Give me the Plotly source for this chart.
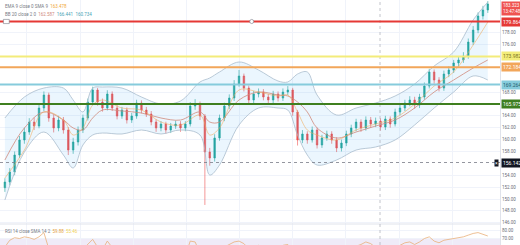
import plotly.graph_objects as go

# ---------------- data ----------------
open_ = [151.90, 152.86, 154.54, 157.40, 159.93, 161.27, 162.95, 162.28, 165.31, 167.50,
         163.63, 161.95, 163.29, 161.61, 158.24, 159.59, 161.61, 163.63, 166.32, 168.34,
         166.32, 165.31, 167.67, 165.31, 163.96, 164.97, 163.29, 163.96, 166.15, 164.97,
         164.30, 162.95, 161.95, 162.62, 161.61, 162.28, 162.62, 161.95, 162.62, 165.65,
         165.98, 163.96, 157.91, 156.90, 160.26, 163.63, 165.65, 166.99, 169.35, 170.69,
         168.67, 166.66, 167.67, 168.00, 167.16, 166.66, 167.67, 166.99, 168.00, 168.34,
         164.64, 159.93, 160.94, 159.93, 161.61, 159.09, 160.26, 160.94, 159.93, 158.58,
         159.42, 160.94, 161.95, 162.95, 161.95, 163.29, 162.62, 163.12, 162.11, 163.46,
         162.62, 164.64, 165.31, 166.15, 166.66, 165.81, 167.16, 169.01, 171.37, 170.02,
         168.67, 171.03, 171.70, 172.88, 173.39, 174.06, 176.41, 178.43, 180.79, 181.80]
close = [152.86, 154.54, 157.40, 159.93, 161.27, 162.95, 162.28, 165.31, 167.50, 163.63,
         161.95, 163.29, 161.61, 158.24, 159.59, 161.61, 163.63, 166.32, 168.34, 166.32,
         165.31, 167.67, 165.31, 163.96, 164.97, 163.29, 163.96, 166.15, 164.97, 164.30,
         162.95, 161.95, 162.62, 161.61, 162.28, 162.62, 161.95, 162.62, 165.65, 165.98,
         163.96, 157.91, 156.90, 160.26, 163.63, 165.65, 166.99, 169.35, 170.69, 168.67,
         166.66, 167.67, 168.00, 167.16, 166.66, 167.67, 166.99, 168.00, 168.34, 164.64,
         159.93, 160.94, 159.93, 161.61, 159.09, 160.26, 160.94, 159.93, 158.58, 159.42,
         160.94, 161.95, 162.95, 161.95, 163.29, 162.62, 163.12, 162.11, 163.46, 162.62,
         164.64, 165.31, 166.15, 166.66, 165.81, 167.16, 169.01, 171.37, 170.02, 168.67,
         171.03, 171.70, 172.88, 173.39, 174.06, 176.41, 178.43, 180.79, 181.80, 182.81]
high = [153.5, 155.2, 158.0, 160.6, 162.0, 163.6, 163.7, 165.9, 168.1, 167.9,
        164.2, 164.0, 163.8, 162.1, 160.3, 162.2, 164.2, 166.9, 168.9, 168.7,
        166.9, 168.3, 168.1, 165.8, 165.5, 165.4, 164.5, 166.7, 166.6, 165.5,
        164.8, 163.4, 163.1, 163.0, 162.8, 163.2, 163.1, 163.1, 166.3, 166.8,
        166.4, 164.3, 158.6, 160.9, 164.2, 166.2, 167.6, 170.0, 171.7, 171.1,
        169.1, 168.2, 168.6, 168.5, 167.7, 168.2, 168.1, 168.6, 169.0, 168.7,
        165.0, 161.6, 161.4, 162.2, 162.0, 160.8, 161.5, 161.4, 160.4, 160.0,
        161.5, 162.5, 163.5, 163.4, 163.9, 163.8, 163.7, 163.6, 164.0, 163.9,
        165.2, 165.9, 166.7, 167.3, 167.2, 167.7, 169.6, 171.9, 171.8, 170.5,
        171.6, 172.3, 173.4, 174.0, 174.7, 177.0, 179.1, 181.4, 182.5, 183.3]
low = [151.2, 152.3, 154.0, 156.9, 159.3, 160.8, 161.6, 161.9, 164.8, 163.0,
       161.2, 161.4, 161.0, 157.4, 157.6, 159.0, 161.1, 163.2, 165.8, 165.7,
       164.7, 164.9, 164.8, 163.4, 163.5, 162.7, 162.8, 163.5, 164.4, 163.8,
       162.4, 161.3, 161.4, 161.0, 161.1, 161.8, 161.3, 161.4, 162.2, 165.0,
       163.3, 149.0, 155.6, 156.3, 159.8, 163.1, 165.1, 166.5, 168.9, 168.1,
       166.0, 166.1, 167.1, 166.6, 166.0, 166.1, 166.4, 166.5, 167.5, 164.0,
       159.0, 159.4, 159.3, 159.5, 158.5, 158.6, 159.8, 159.3, 157.9, 158.0,
       158.9, 160.4, 161.4, 161.3, 161.5, 162.0, 162.1, 161.5, 161.6, 162.0,
       162.2, 164.1, 164.8, 165.6, 165.2, 165.3, 166.7, 168.6, 169.4, 168.1,
       168.2, 170.5, 171.2, 172.3, 172.9, 173.6, 175.9, 177.9, 180.2, 181.3]

bb_idx = [0, 4, 8, 12, 14, 16, 18, 20, 24, 28, 32, 36, 40, 42, 44, 48, 52, 56, 58, 60,
          62, 64, 68, 72, 76, 80, 84, 88, 92, 96, 99]
bb_upper = [163.63, 167.16, 168.67, 168.67, 166.66, 164.64, 168.67, 168.84, 168.67, 167.16,
            165.98, 166.49, 169.69, 170.36, 171.37, 173.05, 171.70, 169.85, 169.69, 171.03,
            171.37, 167.50, 164.13, 165.31, 166.15, 167.33, 169.35, 172.38, 174.73, 180.12, 183.14]
bb_basis = [156.56, 161.95, 164.64, 163.29, 161.95, 161.61, 163.63, 164.97, 164.81, 164.47,
            163.63, 163.29, 164.64, 162.95, 162.95, 166.66, 168.00, 167.50, 167.33, 166.32,
            164.64, 161.95, 160.26, 161.27, 162.28, 163.29, 165.31, 168.00, 170.02, 172.04, 173.39]
bb_lower = [149.83, 157.91, 161.27, 157.40, 155.22, 159.09, 160.77, 161.10, 160.94, 161.61,
            160.94, 161.61, 160.77, 154.04, 155.72, 162.45, 165.31, 165.31, 164.97, 160.77,
            157.40, 155.72, 156.56, 158.24, 158.75, 159.93, 162.45, 165.31, 168.00, 170.70, 170.02]
ema9 = [153.53, 158.24, 164.64, 163.29, 160.77, 161.95, 165.82, 166.66, 165.31, 164.97,
        162.95, 162.45, 164.13, 160.77, 161.95, 168.34, 168.00, 167.33, 167.50, 164.64,
        161.61, 160.77, 159.93, 161.61, 162.62, 163.63, 165.98, 169.01, 171.37, 175.91, 179.78]

rsi = [60, 68, 71, 70, 72, 71, 69, 72, 77, 58,
       52, 56, 51, 42, 46, 52, 58, 64, 69, 60,
       57, 67, 56, 52, 55, 50, 53, 59, 55, 53,
       49, 46, 49, 46, 49, 50, 48, 50, 67, 66,
       53, 38, 36, 46, 55, 60, 63, 66, 67, 64,
       58, 61, 62, 59, 58, 61, 59, 62, 63, 52,
       41, 44, 42, 47, 42, 46, 48, 45, 42, 45,
       50, 58, 61, 63, 66, 64, 60, 55, 58, 56,
       60, 62, 65, 66, 63, 66, 70, 72, 67, 65,
       68, 69, 70, 71, 72, 74, 76, 77, 75, 73]

level_prices = [179.864, 173.982, 172.184, 169.264, 165.975]
level_colors = ["#e53935", "#f3ec7a", "#f2a65a", "#86cbdc", "#3f7f1f"]
level_text_colors = ["#ffffff", "#7a7420", "#ffffff", "#1e5c6c", "#ffffff"]
price_ticks = [146, 148, 150, 152, 154, 158, 160, 162, 164, 168, 176, 178]
rsi_ticks = [70, 80]
alert_price = 156.142
last_price = "183.323"
countdown = "13:47:48"
legend_ema = ("EMA 9 close 0 SMA 9", ["163.478"])
legend_bb = ("BB 20 close 2 0", ["162.587", "166.441", "160.734"])
legend_rsi = ("RSI 14 close SMA 14 2", ["59.88", "55.46"])

# ---------------- figure ----------------
x = list(range(len(close)))
FONT = "Roboto"
price_range = [145.797, 183.481]
rsi_range = [62.4, 87.1]
split = 21 / 245

fig = go.Figure()
fig.add_trace(go.Scatter(x=bb_idx, y=bb_upper, mode="lines",
                         line=dict(color="#a9bccd", width=0.8, shape="spline"), hoverinfo="skip"))
fig.add_trace(go.Scatter(x=bb_idx, y=bb_lower, mode="lines", fill="tonexty",
                         fillcolor="rgba(33,150,243,0.09)",
                         line=dict(color="#a9bccd", width=0.8, shape="spline"), hoverinfo="skip"))
fig.add_trace(go.Scatter(x=bb_idx, y=bb_basis, mode="lines",
                         line=dict(color="#d08a7c", width=0.8, shape="spline"), hoverinfo="skip"))
fig.add_trace(go.Scatter(x=bb_idx, y=ema9, mode="lines",
                         line=dict(color="rgba(240,170,90,0.8)", width=0.7, shape="spline"), hoverinfo="skip"))
fig.add_trace(go.Candlestick(x=x, open=open_, high=high, low=low, close=close,
                             increasing=dict(line=dict(color="#26a69a", width=0.6), fillcolor="#26a69a"),
                             decreasing=dict(line=dict(color="#ef5350", width=0.6), fillcolor="#ef5350"),
                             whiskerwidth=0))
fig.add_trace(go.Scatter(x=x, y=rsi, mode="lines", xaxis="x2", yaxis="y2",
                         line=dict(color="#eab07a", width=0.8), hoverinfo="skip"))

shapes = []
shapes.append(dict(type="rect", xref="paper", x0=0, x1=1, yref="y2", y0=30, y1=70,
                   fillcolor="rgba(126,87,194,0.12)", line=dict(width=0), layer="below"))
shapes.append(dict(type="line", xref="paper", x0=0, x1=1, yref="paper", y0=split, y1=split,
                   line=dict(color="#e0e3eb", width=1)))
shapes.append(dict(type="line", xref="x", x0=76.9, x1=76.9, yref="paper", y0=0, y1=1,
                   line=dict(color="#b2b5be", width=0.8, dash="dot")))
shapes.append(dict(type="line", xref="paper", x0=0, x1=1, yref="y", y0=alert_price, y1=alert_price,
                   line=dict(color="#787b86", width=0.8, dash="dot")))
for p, c in zip(level_prices, level_colors):
    shapes.append(dict(type="line", xref="paper", x0=0, x1=1, yref="y", y0=p, y1=p,
                       line=dict(color=c, width=2)))
shapes.append(dict(type="rect", xref="x", x0=-0.3, x1=0.9, yref="y", y0=level_prices[0] - 0.35,
                   y1=level_prices[0] + 0.35, fillcolor="white", line=dict(color="#787b86", width=0.6)))
shapes.append(dict(type="circle", xref="x", x0=50.2, x1=51.0, yref="y", y0=level_prices[0] - 0.35,
                   y1=level_prices[0] + 0.35, fillcolor="white", line=dict(color="#787b86", width=0.6)))

annotations = []
for p, c, tc in zip(level_prices, level_colors, level_text_colors):
    annotations.append(dict(xref="paper", x=1, xanchor="left", xshift=1, yref="y", y=p,
                            text=f"{p:.3f}", showarrow=False, bgcolor=c, borderpad=1,
                            font=dict(family=FONT, size=5, color=tc)))
annotations.append(dict(xref="paper", x=1, xanchor="left", xshift=1, yref="y", y=alert_price,
                        text=f"{alert_price:.3f}", showarrow=False, bgcolor="#131722", borderpad=1,
                        font=dict(family=FONT, size=5, color="#ffffff")))
annotations.append(dict(xref="paper", x=1, xanchor="right", xshift=-1, yref="y", y=alert_price,
                        text="×", showarrow=False, bgcolor="#131722", borderpad=0,
                        font=dict(family=FONT, size=5, color="#ffffff")))
annotations.append(dict(xref="paper", x=1, xanchor="left", xshift=1, yref="paper", y=1, yshift=-1,
                        yanchor="top", text=f"{last_price}<br>{countdown}", showarrow=False,
                        bgcolor="#ef5350", borderpad=1, align="left",
                        font=dict(family=FONT, size=4.5, color="#ffffff")))


def legend_text(name, vals, colors):
    parts = [f"<span style='color:#787b86'>{name}</span>"]
    for v, c in zip(vals, colors):
        parts.append(f"<span style='color:{c}'>{v}</span>")
    return "  ".join(parts)


annotations.append(dict(xref="paper", x=0, xshift=3, xanchor="left", yref="paper", y=1, yshift=-2,
                        yanchor="top", showarrow=False,
                        text=legend_text(legend_ema[0], legend_ema[1], ["#f0a93a"]),
                        font=dict(family=FONT, size=4.5)))
annotations.append(dict(xref="paper", x=0, xshift=3, xanchor="left", yref="paper", y=1, yshift=-10,
                        yanchor="top", showarrow=False,
                        text=legend_text(legend_bb[0], legend_bb[1], ["#d08a7c", "#4aa3b5", "#4aa3b5"]),
                        font=dict(family=FONT, size=4.5)))
annotations.append(dict(xref="paper", x=0, xshift=3, xanchor="left", yref="paper", y=split, yshift=-3,
                        yanchor="top", showarrow=False,
                        text=legend_text(legend_rsi[0], legend_rsi[1], ["#e6a13c", "#f3d35a"]),
                        font=dict(family=FONT, size=4.5)))

axis_common = dict(showgrid=True, gridcolor="#f0f3fa", gridwidth=1, zeroline=False)
fig.update_layout(
    width=520, height=245, margin=dict(l=0, r=20, t=0, b=0),
    paper_bgcolor="white", plot_bgcolor="white", showlegend=False,
    boxgap=0.55,
    font=dict(family=FONT, size=5, color="#5d606b"),
    xaxis=dict(domain=[0, 1], anchor="y", range=[-1, 101.5], showticklabels=False,
               tick0=4.5, dtick=10.9, rangeslider=dict(visible=False), **axis_common),
    xaxis2=dict(domain=[0, 1], anchor="y2", matches="x", showticklabels=False,
                tick0=4.5, dtick=10.9, **axis_common),
    yaxis=dict(domain=[split, 1], side="right", range=price_range, tickvals=price_ticks,
               ticktext=[f"{t:.2f}" for t in price_ticks], tickfont=dict(size=4.5, color="#6a6d78"),
               showline=True, linecolor="#e0e3eb", linewidth=1, **axis_common),
    yaxis2=dict(domain=[0, split], side="right", range=rsi_range, tickvals=rsi_ticks,
                ticktext=[f"{t:.2f}" for t in rsi_ticks], tickfont=dict(size=4.5, color="#6a6d78"),
                showline=True, linecolor="#e0e3eb", linewidth=1, **axis_common),
    shapes=shapes, annotations=annotations,
)

fig.write_html("out.html")
